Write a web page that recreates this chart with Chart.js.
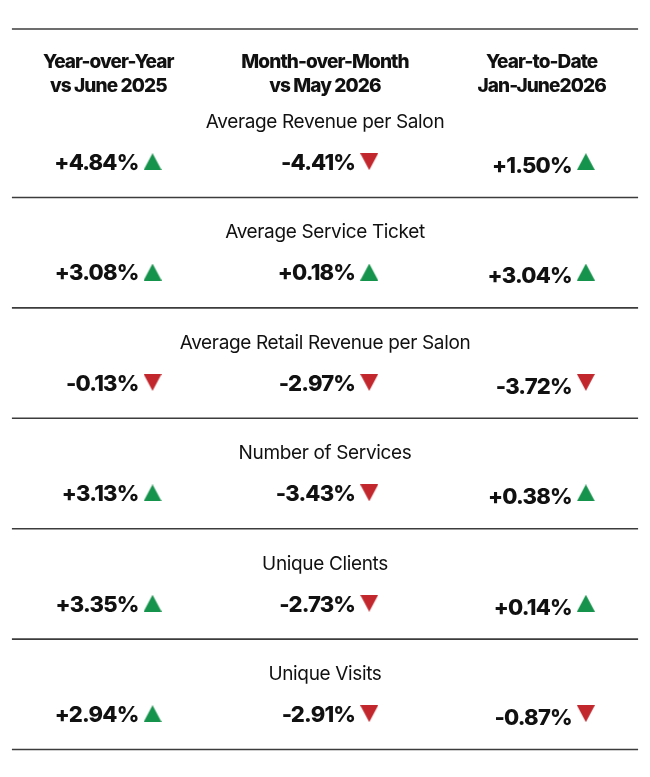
<!DOCTYPE html>
<html>
<head>
<meta charset="utf-8">
<script src="https://cdn.jsdelivr.net/npm/chart.js@4.4.1/dist/chart.umd.min.js"></script>
<style>
  html, body { margin: 0; padding: 0; background: #fff; }
  #wrap { width: 650px; height: 777px; }
</style>
</head>
<body>
<div id="wrap"><canvas id="chart" width="650" height="777"></canvas></div>
<script>
// --- Data ---
const periods = ['Year-over-Year', 'Month-over-Month', 'Year-to-Date'];
const periodSubs = ['vs June 2025', 'vs May 2026', 'Jan-June2026'];
const metrics = [
  'Average Revenue per Salon',
  'Average Service Ticket',
  'Average Retail Revenue per Salon',
  'Number of Services',
  'Unique Clients',
  'Unique Visits',
];
const yoy = [4.84, 3.08, -0.13, 3.13, 3.35, 2.94];
const mom = [-4.41, 0.18, -2.97, -3.43, -2.73, -2.91];
const ytd = [1.50, 3.04, -3.72, 0.38, 0.14, -0.87];
const columns = [yoy, mom, ytd];

// --- Style / layout ---
const UP = '#15924b';
const DOWN = '#c1272d';
const INK = '#111';
const RULE = '#3c3c3c';
const ROW_PX = 110.4;
const Y_MIN = -1.159;
const HEAD1 = -0.543, HEAD2 = -0.326;   // header baselines, relative to first title
const VALUE = 0.38;                      // value baseline below title
const TRI = 0.305;                       // triangle centre below title
const TRI_DX = 0.204;                    // triangle offset from column centre
const RULE_BELOW = 0.63;
const RULE_TOP = -0.896;
const colShift = [0, 0, 3];              // third column sits a touch lower

function triangle(up) {
  const c = document.createElement('canvas');
  c.width = 18; c.height = 17;
  const g = c.getContext('2d');
  g.fillStyle = up ? UP : DOWN;
  g.beginPath();
  if (up) { g.moveTo(9, 0); g.lineTo(18, 17); g.lineTo(0, 17); }
  else { g.moveTo(0, 0); g.lineTo(18, 0); g.lineTo(9, 17); }
  g.closePath();
  g.fill();
  return c;
}
const triUp = triangle(true);
const triDown = triangle(false);

function fmt(v) {
  return (v >= 0 ? '+' : '-') + Math.abs(v).toFixed(2) + '%';
}

// triangle points, one per cell
const triPoints = [];
const triStyles = [];
columns.forEach((col, c) => {
  col.forEach((v, r) => {
    triPoints.push({ x: c + TRI_DX, y: r + TRI, v, c, r });
    triStyles.push(v >= 0 ? triUp : triDown);
  });
});

// horizontal rules
const ruleYs = [RULE_TOP].concat(metrics.map((m, i) => i + RULE_BELOW));
const ruleSets = ruleYs.map(y => ({
  type: 'line',
  data: [{ x: -0.445, y }, { x: 2.445, y }],
  borderColor: RULE,
  borderWidth: 1.6,
  pointRadius: 0,
  showLine: true,
}));

// --- Text plugin ---
const textPlugin = {
  id: 'tableText',
  afterDatasetsDraw(chart) {
    const { ctx, scales: { x, y } } = chart;
    ctx.save();
    ctx.fillStyle = INK;
    ctx.textBaseline = 'alphabetic';

    // headers
    ctx.font = '800 19px Inter';
    ctx.letterSpacing = '-0.9px';
    ctx.textAlign = 'center';
    periods.forEach((p, i) => {
      ctx.fillText(p, x.getPixelForValue(i), y.getPixelForValue(HEAD1));
      ctx.fillText(periodSubs[i], x.getPixelForValue(i), y.getPixelForValue(HEAD2));
    });

    // metric titles
    ctx.font = '19px Inter';
    ctx.letterSpacing = '-0.35px';
    metrics.forEach((m, r) => {
      ctx.fillText(m, x.getPixelForValue(1), y.getPixelForValue(r));
    });

    // values
    ctx.font = '800 22px Inter';
    ctx.letterSpacing = '-0.8px';
    ctx.textAlign = 'right';
    triPoints.forEach(p => {
      const px = x.getPixelForValue(p.x) - 14;
      const py = y.getPixelForValue(p.r + VALUE) + colShift[p.c];
      ctx.fillText(fmt(p.v), px, py);
    });
    ctx.restore();
  },
};

new Chart(document.getElementById('chart'), {
  type: 'scatter',
  data: {
    datasets: [
      {
        data: triPoints,
        pointStyle: triStyles,
        pointRadius: 9,
        pointHoverRadius: 9,
      },
      ...ruleSets,
    ],
  },
  options: {
    responsive: false,
    animation: false,
    events: [],
    layout: { padding: 0, autoPadding: false },
    plugins: { legend: { display: false }, tooltip: { enabled: false } },
    scales: {
      x: { type: 'linear', display: false, min: -0.5, max: 2.5 },
      y: { type: 'linear', display: false, reverse: true, min: Y_MIN, max: Y_MIN + 777 / ROW_PX },
    },
  },
  plugins: [textPlugin],
});
</script>
</body>
</html>
